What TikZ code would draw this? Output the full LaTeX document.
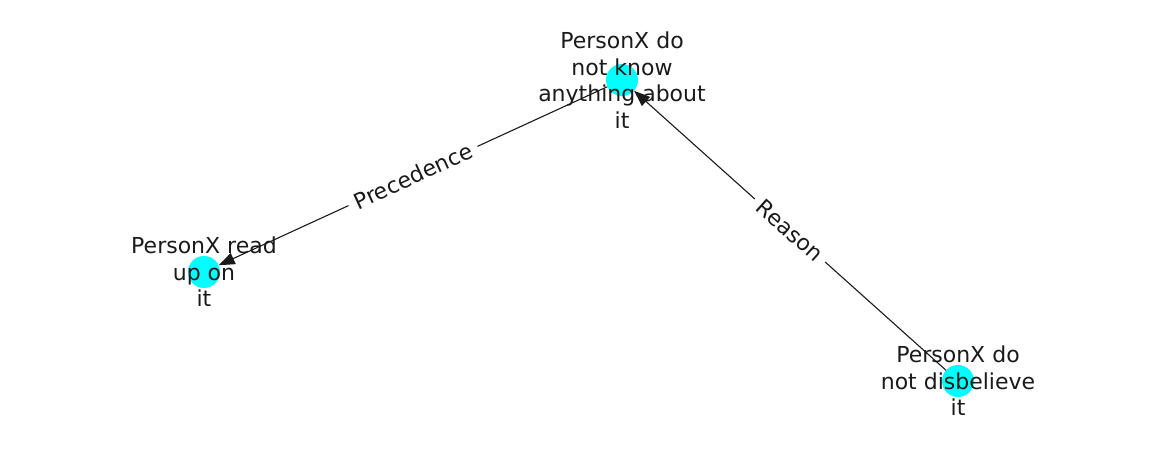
\documentclass[tikz,border=0pt]{standalone}
\usepackage{fontspec}
\setmainfont{DejaVu Sans}
\usetikzlibrary{arrows.meta}
\definecolor{nodecyan}{RGB}{0,255,255}
\definecolor{ink}{RGB}{26,26,26}
\begin{document}
\begin{tikzpicture}[x=1pt,y=-1pt,
  dot/.style={circle,fill=nodecyan,minimum size=32pt,inner sep=0pt},
  txt/.style={align=center,font=\fontsize{22pt}{26.5pt}\selectfont,text=ink},
  edge/.style={draw=ink,line width=1.1pt,-{Triangle[length=16pt,width=12pt]}},
  elab/.style={midway,sloped,fill=white,inner xsep=7pt,inner ysep=3pt,font=\fontsize{22pt}{26.5pt}\selectfont,text=ink}]
\useasboundingbox (0,0) rectangle (1162,462);
\node[dot] (t) at (622,80) {};
\node[dot] (l) at (204,272) {};
\node[dot] (r) at (958,381) {};
\draw[edge] (t) -- (l) node[elab] {Precedence};
\draw[edge] (r) -- (t) node[elab] {Reason};
\node[txt] (tt) at (622,80) {PersonX do\\not know\\anything about\\it};
\node[txt] (lt) at (204,272) {PersonX read\\up on\\it};
\node[txt] (rt) at (958,381) {PersonX do\\not disbelieve\\it};
\end{tikzpicture}
\end{document}
